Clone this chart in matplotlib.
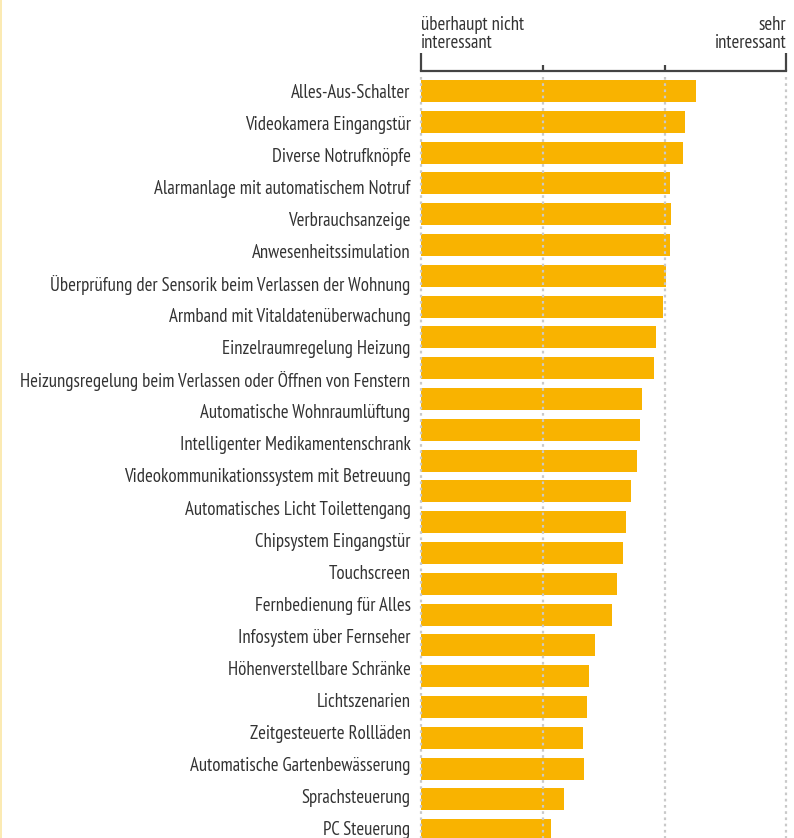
import matplotlib.pyplot as plt
from matplotlib.lines import Line2D
from matplotlib import font_manager

# item names as printed on the left (24 of them)
labels = [
    'Alles-Aus-Schalter',
    'Videokamera Eingangstür',
    'Diverse Notrufknöpfe',
    'Alarmanlage mit automatischem Notruf',
    'Verbrauchsanzeige',
    'Anwesenheitssimulation',
    'Überprüfung der Sensorik beim Verlassen der Wohnung',
    'Armband mit Vitaldatenüberwachung',
    'Einzelraumregelung Heizung',
    'Heizungsregelung beim Verlassen oder Öffnen von Fenstern',
    'Automatische Wohnraumlüftung',
    'Intelligenter Medikamentenschrank',
    'Videokommunikationssystem mit Betreuung',
    'Automatisches Licht Toilettengang',
    'Chipsystem Eingangstür',
    'Touchscreen',
    'Fernbedienung für Alles',
    'Infosystem über Fernseher',
    'Höhenverstellbare Schränke',
    'Lichtszenarien',
    'Zeitgesteuerte Rollläden',
    'Automatische Gartenbewässerung',
    'Sprachsteuerung',
    'PC Steuerung',
]

# mean interest on a 1..4 scale, one per bar (the chart draws 25 bars)
scores = [3.26, 3.17, 3.15, 3.04, 3.05, 3.04, 3.01, 2.99, 2.93, 2.91,
          2.81, 2.80, 2.77, 2.72, 2.68, 2.66, 2.61, 2.57, 2.43, 2.38,
          2.36, 2.33, 2.34, 2.17, 2.07]

scale_ticks = [1, 2, 3, 4]
scale_low = 'überhaupt nicht\ninteressant'
scale_high = 'sehr\ninteressant'

# pick a condensed face if there is one
candidates = ['PT Sans Narrow', 'Fira Sans Condensed', 'Roboto Condensed',
              'Open Sans Condensed', 'Archivo Narrow', 'Encode Sans Condensed',
              'Asap Condensed', 'IBM Plex Sans Condensed', 'Liberation Sans Narrow']
available = {f.name for f in font_manager.fontManager.ttflist}
family = next((c for c in candidates if c in available), 'DejaVu Sans')
plt.rcParams['font.family'] = [family, 'DejaVu Sans']

W, H = 794, 838
fig = plt.figure(figsize=(W / 100, H / 100), dpi=100)

# size the text so the longest label is as wide as in the original (~391 px)
renderer = fig.canvas.get_renderer()
probe = fig.text(0, 0, labels[9], fontsize=14)
fs = 14 * 391 / probe.get_window_extent(renderer).width
probe.remove()
fs = min(fs, 15)

left, right, top, bottom = 421, 786.5, 71, 838
ax = fig.add_axes([left / W, 0, (right - left) / W, (H - top) / H])

bar_pitch = 30.8
lab_pitch = 32.04
first = 91

ypos = list(range(len(scores)))
ax.barh(ypos, [s - 1 for s in scores], left=1, height=22 / bar_pitch,
        color='#f9b300', zorder=2)
ax.set_xlim(1, 4)
ax.set_ylim((bottom - first) / bar_pitch, -(first - top) / bar_pitch)

# dotted guide lines, drawn over the bars
ax.vlines(scale_ticks, -0.45, (bottom - first) / bar_pitch, colors='#c9c9c9',
          linestyles=(0, (1.2, 1.6)), linewidth=1.6, zorder=3, clip_on=False)

for s in ['left', 'right', 'bottom']:
    ax.spines[s].set_visible(False)
ax.spines['top'].set_color('#444444')
ax.spines['top'].set_linewidth(1.6)
ax.xaxis.tick_top()
ax.set_xticks(scale_ticks)
ax.set_xticklabels([])
ax.tick_params(axis='x', direction='out', length=4.5, width=1.6, color='#444444')
for t in ax.xaxis.get_major_ticks():
    if t.get_loc() in (scale_ticks[0], scale_ticks[-1]):
        t.tick2line.set_markersize(13)

# labels on their own axis (their spacing differs slightly from the bars)
lab = ax.twinx()
lab.set_ylim((bottom - first) / lab_pitch, -(first - top) / lab_pitch)
lab.yaxis.tick_left()
lab.set_yticks(range(len(labels)))
lab.set_yticklabels(labels, fontsize=fs, color='#333333')
lab.tick_params(axis='y', length=0, pad=7.5)
lab.tick_params(axis='y', right=False, labelright=False)
for s in lab.spines.values():
    s.set_visible(False)
ax.set_yticks([])

ax.annotate(scale_low, (scale_ticks[0], 1), xycoords=ax.get_xaxis_transform(),
            xytext=(0, 14), textcoords='offset points', ha='left', va='bottom',
            fontsize=fs, color='#333333', linespacing=1.0)
ax.annotate(scale_high, (scale_ticks[-1], 1), xycoords=ax.get_xaxis_transform(),
            xytext=(0, 14), textcoords='offset points', ha='right', va='bottom',
            fontsize=fs, color='#333333', linespacing=1.0, multialignment='right')

# thin pale edge at the left of the picture
fig.add_artist(Line2D([0.6 / W, 0.6 / W], [0, 1], color='#fbe6a4', linewidth=1.2))

fig.savefig('out.png', dpi=100)
